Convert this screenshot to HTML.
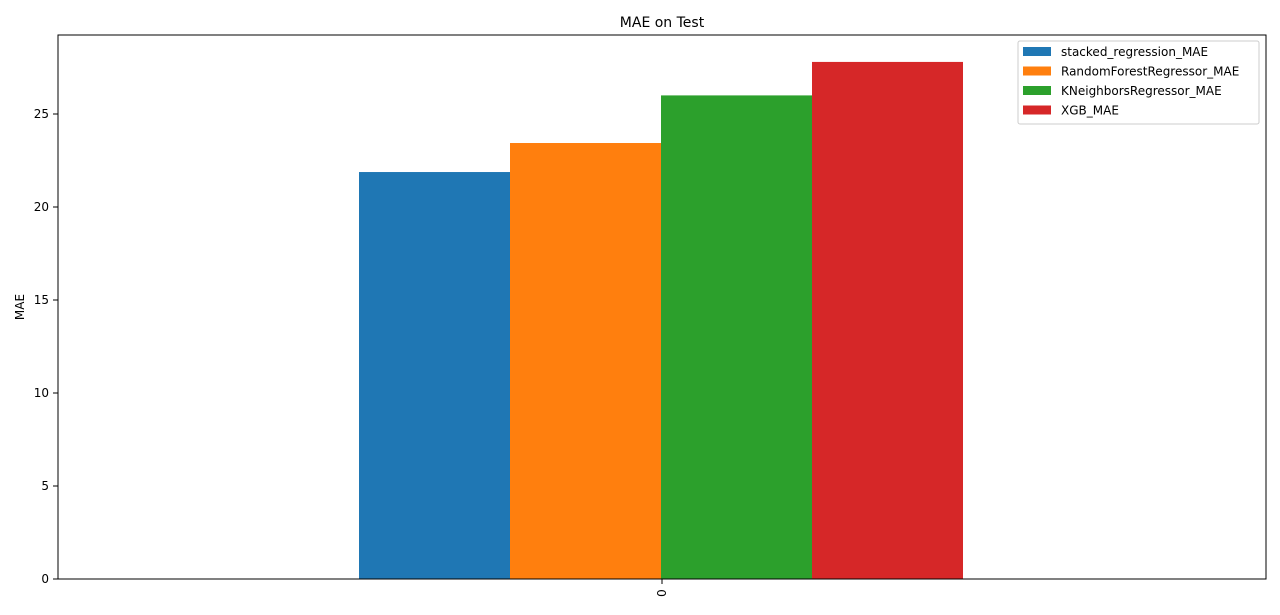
<!DOCTYPE html>
<html><head><meta charset="utf-8"><style>
body{margin:0;background:#fff;}
svg text{font-family:"DejaVu Sans","Liberation Sans",sans-serif;fill:#000;}
</style></head><body>
<svg width="1280" height="610" xmlns="http://www.w3.org/2000/svg">
<text x="662" y="27" text-anchor="middle" font-size="14">MAE on Test</text>
<text x="24" y="307" text-anchor="middle" font-size="12" transform="rotate(-90 24 307)">MAE</text>
<g id="bars"></g>
<g id="yticks"></g>
<rect x="58" y="35" width="1208" height="544" fill="none" stroke="#000" stroke-width="1"/>
<line x1="662" y1="579" x2="662" y2="584" stroke="#000"/>
<text x="0" y="0" font-size="12" text-anchor="middle" transform="translate(666 593) rotate(-90)">0</text>
<g id="legend">
<rect x="1018" y="41" width="241" height="83" rx="2" fill="#fff" stroke="#ccc"/>
</g>
</svg>
<script>
const categories=["stacked_regression_MAE","RandomForestRegressor_MAE","KNeighborsRegressor_MAE","XGB_MAE"];
const values=[21.88,23.44,26.0,27.8];
const colors=["#1f77b4","#ff7f0e","#2ca02c","#d62728"];
const yTicks=[0,5,10,15,20,25];
const NS="http://www.w3.org/2000/svg";
const y0=579,pxPer=18.6;
function yScale(v){return y0-v*pxPer;}
const barW=151,start=359;
const bars=document.getElementById('bars');
values.forEach((v,i)=>{
 const r=document.createElementNS(NS,'rect');
 r.setAttribute('x',start+i*barW);r.setAttribute('y',yScale(v));
 r.setAttribute('width',barW);r.setAttribute('height',y0-yScale(v));
 r.setAttribute('fill',colors[i]);
 
 
 bars.appendChild(r);
});
const yt=document.getElementById('yticks');
yTicks.forEach(t=>{
 const y=yScale(t);
 const l=document.createElementNS(NS,'line');
 l.setAttribute('x1',53);l.setAttribute('x2',58);l.setAttribute('y1',y);l.setAttribute('y2',y);l.setAttribute('stroke','#000');
 
 
 yt.appendChild(l);
 const tx=document.createElementNS(NS,'text');
 tx.setAttribute('x',49);tx.setAttribute('y',y+4);tx.setAttribute('text-anchor','end');tx.setAttribute('font-size','12');
 tx.textContent=t;
 
 
 yt.appendChild(tx);
});
const lg=document.getElementById('legend');
categories.forEach((c,i)=>{
 const y=51+i*19.5;
 const r=document.createElementNS(NS,'rect');
 r.setAttribute('x',1023);r.setAttribute('y',y-4);r.setAttribute('width',28);r.setAttribute('height',9);r.setAttribute('fill',colors[i]);
 
 
 lg.appendChild(r);
 const tx=document.createElementNS(NS,'text');
 tx.setAttribute('x',1061);tx.setAttribute('y',y+5);tx.setAttribute('font-size','12');
 tx.textContent=c;
 
 
 lg.appendChild(tx);
});
</script>
</body></html>
